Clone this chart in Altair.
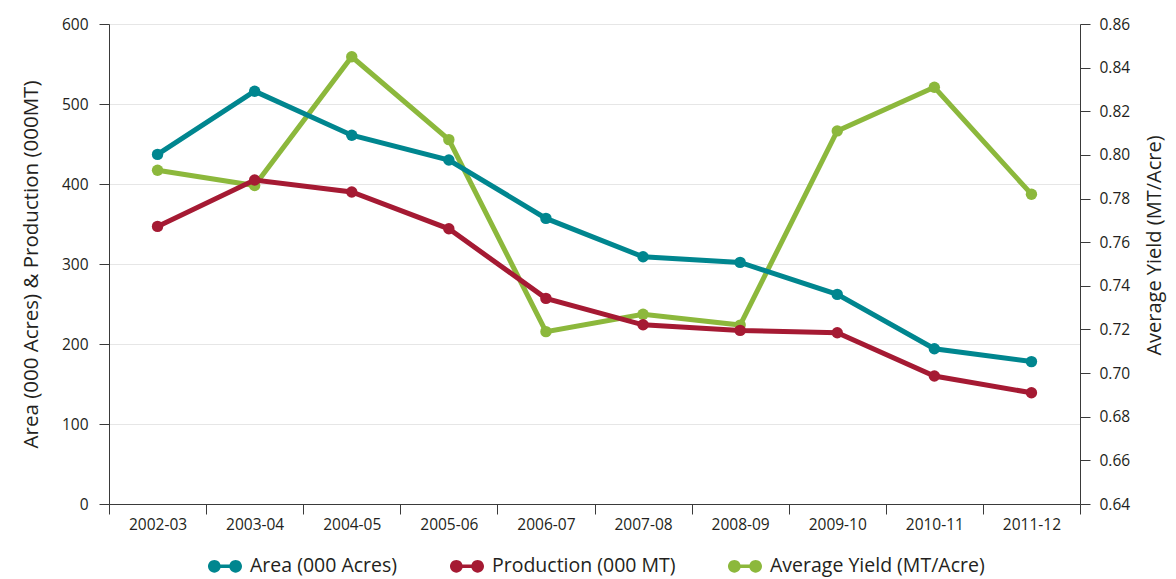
import altair as alt
import pandas as pd

years = ["2002-03", "2003-04", "2004-05", "2005-06", "2006-07",
         "2007-08", "2008-09", "2009-10", "2010-11", "2011-12"]
area = [437, 516, 461, 430, 357, 309, 302, 262, 194, 178]
production = [347, 405, 390, 344, 257, 224, 217, 214, 160, 139]
avg_yield = [0.793, 0.786, 0.845, 0.807, 0.719, 0.727, 0.722, 0.811, 0.831, 0.782]

series_names = ["Area (000 Acres)", "Production (000 MT)", "Average Yield (MT/Acre)"]
series_colors = ["#00868F", "#A51A33", "#8CB83C"]
left_ticks = [0, 100, 200, 300, 400, 500, 600]
right_ticks = [0.64, 0.66, 0.68, 0.70, 0.72, 0.74, 0.76, 0.78, 0.80, 0.82, 0.84, 0.86]

left_df = pd.DataFrame({
    "Year": years * 2,
    "Series": [series_names[0]] * len(years) + [series_names[1]] * len(years),
    "Value": area + production,
})
right_df = pd.DataFrame({
    "Year": years,
    "Series": [series_names[2]] * len(years),
    "Value": avg_yield,
})

FONT = "Open Sans"
TXT = "#231F20"
AX = "#3A3A3A"

x_enc = alt.X(
    "Year:N", sort=years,
    scale=alt.Scale(type="band", paddingInner=0, paddingOuter=0),
    axis=alt.Axis(title=None, tickBand="extent", labelAngle=0, labelFontSize=15.5,
                  labelPadding=3, tickSize=10, grid=False, labelColor=TXT,
                  domainColor=AX, tickColor=AX, labelFont=FONT),
)

legend_path = ("M-0.7,-0.1 H0.7 V0.1 H-0.7 Z "
               "M-1,0 A0.375,0.375 0 1 1 -0.25,0 A0.375,0.375 0 1 1 -1,0 Z "
               "M0.25,0 A0.375,0.375 0 1 1 1,0 A0.375,0.375 0 1 1 0.25,0 Z")

color_scale = alt.Scale(domain=series_names, range=series_colors)
color_legend = alt.Color(
    "Series:N", scale=color_scale,
    legend=alt.Legend(title=None, orient="none", direction="horizontal",
                      legendX=99, legendY=525, symbolType=legend_path,
                      symbolSize=1156, symbolStrokeWidth=0, symbolOpacity=1,
                      labelFontSize=19.5, labelFont=FONT, labelColor=TXT,
                      labelOffset=8, columnPadding=52, labelLimit=400),
)

y_left = alt.Y(
    "Value:Q",
    scale=alt.Scale(domain=[0, 600], nice=False, zero=False),
    axis=alt.Axis(orient="left", title="Area (000 Acres) & Production (000MT)",
                  values=left_ticks, grid=True, gridColor="#E6E6E6",
                  tickSize=10, labelPadding=11, labelFontSize=15.5, labelFont=FONT,
                  labelColor=TXT, titleFontSize=20.5, titleFont=FONT,
                  titleFontWeight="normal", titleColor=TXT, titlePadding=20,
                  domainColor=AX, tickColor=AX),
)
y_right = alt.Y(
    "Value:Q",
    scale=alt.Scale(domain=[0.64, 0.86], nice=False, zero=False),
    axis=alt.Axis(orient="right", title="Average Yield (MT/Acre)",
                  values=right_ticks, format=".2f", grid=False,
                  tickSize=10, labelPadding=9, labelFontSize=15.5, labelFont=FONT,
                  labelColor=TXT, titleFontSize=20, titleFont=FONT,
                  titleFontWeight="normal", titleColor=TXT, titlePadding=15,
                  titleAngle=270, titleBaseline="top", titleY=221,
                  domainColor=AX, tickColor=AX),
)

# lines (one layer per series, colours from the series palette)
yield_line = alt.Chart(right_df).mark_line(strokeWidth=5, color=series_colors[2]).encode(
    x=x_enc, y=y_right)
yield_pts = alt.Chart(right_df).mark_point(filled=True, size=130, opacity=1).encode(
    x=x_enc, y=y_right, color=color_legend)
right_layer = alt.layer(yield_line, yield_pts)

area_line = alt.Chart(left_df).transform_filter(
    alt.datum.Series == series_names[0]
).mark_line(strokeWidth=5, color=series_colors[0]).encode(x=x_enc, y=y_left)
prod_line = alt.Chart(left_df).transform_filter(
    alt.datum.Series == series_names[1]
).mark_line(strokeWidth=5, color=series_colors[1]).encode(x=x_enc, y=y_left)
left_pts = alt.Chart(left_df).mark_point(filled=True, size=130, opacity=1).encode(
    x=x_enc, y=y_left, color=color_legend)
left_layer = alt.layer(area_line, prod_line, left_pts)

chart = alt.layer(right_layer, left_layer).resolve_scale(y="independent").properties(
    width=971, height=480,
    autosize=alt.AutoSizeParams(type="none"),
    padding={"left": 101, "top": 16, "right": 88, "bottom": 75},
).configure_view(stroke=None).configure(font=FONT)

chart.save("out.html", embed_options={"renderer": "svg", "actions": False})
